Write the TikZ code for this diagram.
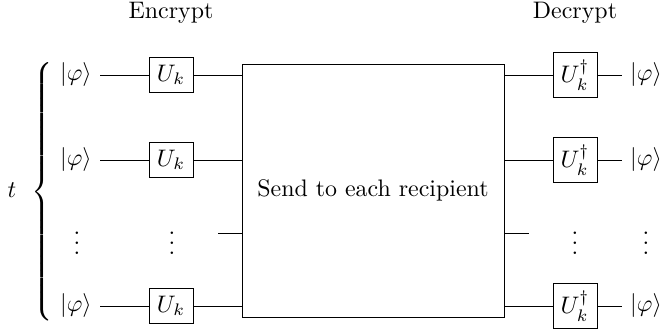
\documentclass[tikz,border=0pt]{standalone}
\usepackage{amsmath}

\begin{document}
\begin{tikzpicture}[x=1.47mm, y=-1.47mm,
    gate/.style={draw, minimum width=18.4pt, minimum height=14.6pt, inner sep=2pt},
    dgate/.style={gate, minimum height=19.2pt},
    ket/.style={inner sep=3.3pt}]
      \useasboundingbox (0,0) rectangle (66.1,33.5);

      \node (enc) at (17.1,1.3) {Encrypt};
      \node (dec) at (57.5,1.3) {Decrypt};

      \node[draw, minimum width=109.6pt, minimum height=105.8pt] (send) at (37.3,19.05)
        {Send to each recipient};

      % encrypting side
      \node[ket] (in1) at (7.6,7.5)  {$|\varphi\rangle$};
      \node[ket] (in2) at (7.6,16.0) {$|\varphi\rangle$};
      \node[ket] (in4) at (7.6,30.6) {$|\varphi\rangle$};
      \node[gate] (u1) at (17.1,7.5)  {$U_k$};
      \node[gate] (u2) at (17.1,16.0) {$U_k$};
      \node[gate] (u4) at (17.1,30.6) {$U_k$};

      % decrypting side
      \node[dgate] (d1) at (57.5,7.5)  {$U_k^\dagger$};
      \node[dgate] (d2) at (57.5,16.0) {$U_k^\dagger$};
      \node[dgate] (d4) at (57.5,30.6) {$U_k^\dagger$};
      \node[ket] (out1) at (64.6,7.5)  {$|\varphi\rangle$};
      \node[ket] (out2) at (64.6,16.0) {$|\varphi\rangle$};
      \node[ket] (out4) at (64.6,30.6) {$|\varphi\rangle$};

      \foreach \i in {1,2,4} {
        \draw (in\i) -- (u\i);
        \draw (u\i) -- (u\i -| send.west);
        \draw (d\i -| send.east) -- (d\i);
        \draw (d\i) -- (out\i);
      }

      % the row of dots
      \coordinate (l3) at (21.8,23.3);
      \coordinate (r3) at (52.9,23.3);
      \draw (l3) -- (l3 -| send.west);
      \draw (r3 -| send.east) -- (r3);
      \node (v1) at (7.7,23.6)  {$\vdots$};
      \node (v2) at (17.2,23.6) {$\vdots$};
      \node (v3) at (57.5,23.6) {$\vdots$};
      \node (v4) at (64.6,23.6) {$\vdots$};

      % the t copies
      \node[inner sep=0pt] (brace) at (4.4,19.2)
        {$\left\{\vcenter{\hbox{\rule{0pt}{111pt}}}\right.$};
      \node (t) at (1.2,19.0) {$t$};
    \end{tikzpicture}
\end{document}
